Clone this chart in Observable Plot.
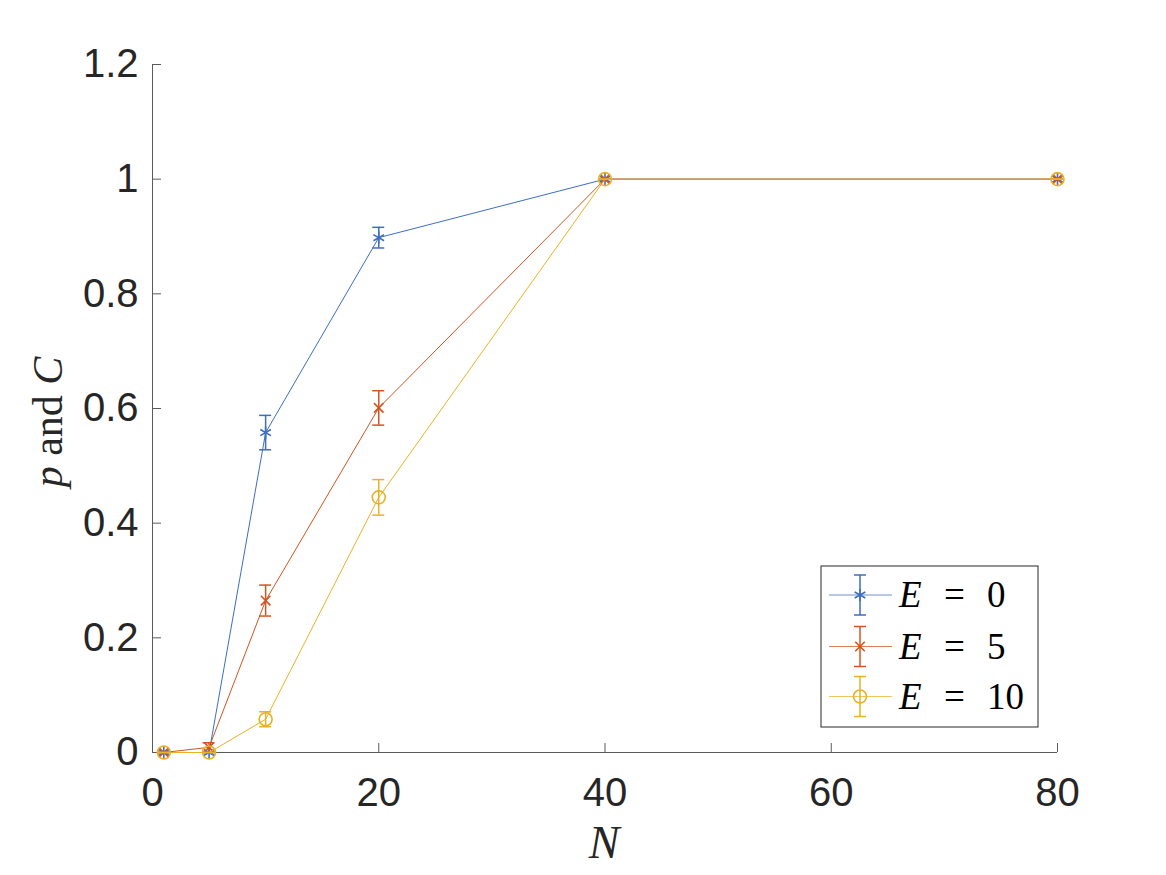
<!DOCTYPE html>
<html>
<head>
<meta charset="utf-8">
<script src="https://cdn.jsdelivr.net/npm/d3@7"></script>
<script src="https://cdn.jsdelivr.net/npm/@observablehq/plot@0.6"></script>
<style>
  html, body { margin: 0; padding: 0; background: #fff; }
  #chart { position: relative; width: 1166px; height: 875px; }
</style>
</head>
<body>
<div id="chart"></div>
<script>
// ---- data ----
const N = [1, 5, 10, 20, 40, 80];
const seriesNames = ["E = 0", "E = 5", "E = 10"];
const E0 = [0, 0, 0.558, 0.898, 1, 1];
const E0err = [0, 0, 0.030, 0.018, 0, 0];
const E5 = [0, 0.009, 0.265, 0.601, 1, 1];
const E5err = [0, 0.008, 0.027, 0.030, 0, 0];
const E10 = [0, 0, 0.058, 0.445, 1, 1];
const E10err = [0, 0, 0.013, 0.031, 0, 0];
const xTicks = [0, 20, 40, 60, 80];
const yTicks = [0, 0.2, 0.4, 0.6, 0.8, 1, 1.2];
const colors = ["#3d6ebf", "#d35420", "#e9b127"];
const symbols = ["asterisk", "times", "circle"];
const radii = [5.8, 4.4, 6.5];

const values = [E0, E5, E10];
const errs = [E0err, E5err, E10err];

const series = seriesNames.map((name, s) =>
  N.map((n, i) => ({N: n, v: values[s][i], lo: values[s][i] - errs[s][i], hi: values[s][i] + errs[s][i]}))
);

const W = 1166, H = 875;
const axisColor = "#5a5a5a";
const textColor = "#262626";
const sans = "'Liberation Sans', Arial, Helvetica, sans-serif";

const marks = [];
// axis lines (left and bottom)
marks.push(Plot.ruleX([0], {x: d => d, y1: 0, y2: 1.2, stroke: axisColor, strokeWidth: 1}));
marks.push(Plot.ruleY([0], {y: d => d, x1: 0, x2: 80, stroke: axisColor, strokeWidth: 1}));
// inward ticks
marks.push(Plot.ruleY(yTicks, {y: d => d, x1: 0, x2: 0, insetRight: -9, stroke: axisColor, strokeWidth: 1}));
marks.push(Plot.ruleX(xTicks, {x: d => d, y1: 0, y2: 0, insetBottom: 9, stroke: axisColor, strokeWidth: 1}));
// tick labels
marks.push(Plot.axisY(yTicks, {tickSize: 0, tickPadding: 14, tickFormat: d => String(d), fontSize: 40, color: textColor, label: null, fontFamily: sans}));
marks.push(Plot.axisX(xTicks, {tickSize: 0, tickPadding: 25, tickFormat: d => String(d), fontSize: 40, color: textColor, label: null, fontFamily: sans}));

series.forEach((data, s) => {
  const c = colors[s];
  marks.push(Plot.line(data, {x: "N", y: "v", stroke: c, strokeWidth: 1}));
  marks.push(Plot.ruleX(data, {x: "N", y1: "lo", y2: "hi", stroke: c, strokeWidth: 1.5}));
  marks.push(Plot.ruleY(data, {y: "hi", x1: "N", x2: "N", insetLeft: -6, insetRight: -6, stroke: c, strokeWidth: 1.5}));
  marks.push(Plot.ruleY(data, {y: "lo", x1: "N", x2: "N", insetLeft: -6, insetRight: -6, stroke: c, strokeWidth: 1.5}));
  marks.push(Plot.dot(data, {x: "N", y: "v", symbol: () => symbols[s], r: radii[s], stroke: c, fill: "none", strokeWidth: 1.6}));
});

const plot = Plot.plot({
  width: W,
  height: H,
  marginLeft: 152,
  marginRight: 109,
  marginTop: 64,
  marginBottom: 123,
  x: {domain: [0, 80], axis: null},
  y: {domain: [0, 1.2], axis: null},
  style: {background: "#fff", overflow: "visible"},
  marks
});

document.getElementById("chart").appendChild(plot);

// axis titles and legend (LaTeX-like serif)
const svg = d3.select(plot);
const serif = "'Liberation Serif', 'DejaVu Serif', 'Times New Roman', serif";

svg.append("text")
  .attr("x", 604).attr("y", 858)
  .attr("text-anchor", "middle")
  .attr("font-family", serif).attr("font-size", 46).attr("fill", textColor)
  .attr("font-style", "italic")
  .text("N");

const yl = svg.append("text")
  .attr("transform", "translate(62,422) rotate(-90)")
  .attr("text-anchor", "middle")
  .attr("font-family", serif).attr("font-size", 42).attr("fill", textColor);
yl.append("tspan").attr("font-style", "italic").text("p");
yl.append("tspan").text(" and ");
yl.append("tspan").attr("font-style", "italic").text("C");

// legend
const lg = svg.append("g");
lg.append("rect").attr("x", 821).attr("y", 566).attr("width", 217).attr("height", 161)
  .attr("fill", "#fff").attr("stroke", textColor).attr("stroke-width", 1);
const rowY = [595, 646.5, 696.5];
const symGen = [d3.symbolAsterisk, d3.symbolTimes, d3.symbolCircle];
seriesNames.forEach((name, s) => {
  const y = rowY[s], c = colors[s], cx = 860;
  lg.append("line").attr("x1", 829).attr("x2", 892).attr("y1", y).attr("y2", y).attr("stroke", c).attr("stroke-width", 1).attr("stroke-opacity", 0.75);
  lg.append("line").attr("x1", cx).attr("x2", cx).attr("y1", y - 20).attr("y2", y + 20).attr("stroke", c).attr("stroke-width", 1.5);
  lg.append("line").attr("x1", cx - 6).attr("x2", cx + 6).attr("y1", y - 20).attr("y2", y - 20).attr("stroke", c).attr("stroke-width", 1.5);
  lg.append("line").attr("x1", cx - 6).attr("x2", cx + 6).attr("y1", y + 20).attr("y2", y + 20).attr("stroke", c).attr("stroke-width", 1.5);
  lg.append("path").attr("transform", `translate(${cx},${y})`)
    .attr("d", d3.symbol(symGen[s], Math.PI * radii[s] * radii[s])())
    .attr("fill", "none").attr("stroke", c).attr("stroke-width", 1.6);
  const t = lg.append("text").attr("y", y + 12)
    .attr("text-anchor", "start")
    .attr("font-family", serif).attr("font-size", 37).attr("fill", "#000");
  const parts = name.split(" = ");
  t.append("tspan").attr("x", 899).attr("font-style", "italic").text(parts[0]);
  t.append("tspan").attr("x", 944).text("=");
  t.append("tspan").attr("x", 987).text(parts[1]);
});
</script>
</body>
</html>
